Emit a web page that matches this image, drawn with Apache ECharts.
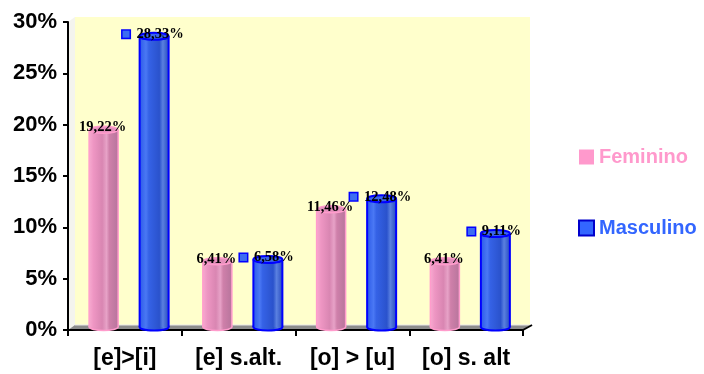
<!DOCTYPE html>
<html>
<head>
<meta charset="utf-8">
<script src="https://cdn.jsdelivr.net/npm/echarts@6/dist/echarts.min.js"></script>
<style>
  html, body { margin: 0; padding: 0; background: #ffffff; }
  #chart { width: 704px; height: 374px; }
</style>
</head>
<body>
<div id="chart"></div>
<script>
// Categories and percentages per group
const categories = ['[e]>[i]', '[e] s.alt.', '[o] > [u]', '[o] s. alt'];
const feminino = [19.22, 6.41, 11.46, 6.41];
const masculino = [28.33, 6.58, 12.48, 9.11];
const yMin = 0;
const yMax = 30;
const yStep = 5;

// Plot frame (pixels) and the pseudo-3D depth of the walls
const G = { left: 68, right: 181, top: 22, bottom: 44 };
const W = 704, H = 374;
const WALL = [7, -5];
const BAR_SHIFT = [4, -3];

function fmt(v) { return v.toFixed(2).replace('.', ',') + '%'; }

const pinkBody = {
  type: 'linear', x: 0, y: 0, x2: 1, y2: 0,
  colorStops: [
    { offset: 0, color: '#f7aad0' }, { offset: 0.15, color: '#ee96c3' },
    { offset: 0.45, color: '#d986b2' }, { offset: 0.6, color: '#e7a2c7' },
    { offset: 0.7, color: '#cf80aa' }, { offset: 1, color: '#b7759c' }
  ]
};
const blueBody = {
  type: 'linear', x: 0, y: 0, x2: 1, y2: 0,
  colorStops: [
    { offset: 0, color: '#2c5be8' }, { offset: 0.22, color: '#4a78f4' },
    { offset: 0.32, color: '#3562e6' }, { offset: 0.68, color: '#2a52cc' },
    { offset: 0.8, color: '#5a80e0' }, { offset: 1, color: '#284cc0' }
  ]
};

const styles = [
  { body: pinkBody, top: '#e690bd', stroke: '#ff9ccc', lw: 1.5, side: -1, key: false },
  { body: blueBody, top: '#3a66ea', stroke: '#0000ff', lw: 2, side: 1, key: true }
];

function cylinder(s) {
  return function (params, api) {
    const idx = api.value(0);
    const val = api.value(1);
    const base = api.coord([idx, 0]);
    const tip = api.coord([idx, val]);
    const band = api.size([1, 0])[0];
    const w = band * 0.255;
    const cx = base[0] + s.side * band * 0.222 + BAR_SHIFT[0];
    const yb = base[1] + BAR_SHIFT[1];
    const yt = tip[1] + BAR_SHIFT[1];
    const rx = w / 2, ry = 3.5;
    const text = fmt(val);
    const rich = {
      v: { fontFamily: 'Liberation Serif', fontWeight: 'bold', fontSize: 14.5, fill: '#000000' },
      sq: { width: 7, height: 7, backgroundColor: '#3c6cf2', borderColor: '#0000ff', borderWidth: 1.5 }
    };
    if (s.key) rich.v.padding = [0, 0, 0, 7];
    return {
      type: 'group',
      children: [
        { type: 'ellipse', shape: { cx: cx, cy: yb, rx: rx, ry: ry },
          style: { fill: s.body, stroke: s.stroke, lineWidth: s.lw } },
        { type: 'rect', shape: { x: cx - rx, y: yt, width: w, height: yb - yt },
          style: { fill: s.body } },
        { type: 'line', shape: { x1: cx - rx, y1: yt, x2: cx - rx, y2: yb },
          style: { stroke: s.stroke, lineWidth: s.lw } },
        { type: 'line', shape: { x1: cx + rx, y1: yt, x2: cx + rx, y2: yb },
          style: { stroke: s.stroke, lineWidth: s.lw } },
        { type: 'ellipse', shape: { cx: cx, cy: yt, rx: rx, ry: ry },
          style: { fill: s.top, stroke: s.stroke, lineWidth: s.lw } },
        { type: 'text', x: cx - 1, y: yt - 2,
          style: {
            text: s.key ? '{sq|}{v|' + text + '}' : '{v|' + text + '}',
            align: 'center', verticalAlign: 'middle', rich: rich,
            fontFamily: 'Liberation Serif', fontWeight: 'bold', fontSize: 14.5
          } }
      ]
    };
  };
}

const x0 = G.left, x1 = W - G.right, y0 = H - G.bottom, y1 = G.top;

const chart = echarts.init(document.getElementById('chart'), null, { renderer: 'canvas' });
chart.setOption({
  backgroundColor: '#ffffff',
  animation: false,
  grid: { left: G.left, right: G.right, top: G.top, bottom: G.bottom, containLabel: false },
  graphic: {
    elements: [
      // back wall
      { type: 'rect', z: -10, shape: { x: x0 + WALL[0], y: y1 + WALL[1], width: x1 - x0, height: y0 - y1 },
        style: { fill: '#ffffcc' } },
      // side wall
      { type: 'polygon', z: -9, shape: { points: [[x0, y1], [x0 + WALL[0], y1 + WALL[1]], [x0 + WALL[0], y0 + WALL[1]], [x0, y0]] },
        style: { fill: '#f4f4ee' } },
      // floor
      { type: 'polygon', z: -8, shape: { points: [[x0, y0], [x0 + WALL[0], y0 + WALL[1]], [x1 + WALL[0], y0 + WALL[1]], [x1, y0]] },
        style: { fill: '#8c8c8c' } },
      { type: 'line', z: -7, shape: { x1: x0 + WALL[0], y1: y0 + WALL[1], x2: x1 + WALL[0], y2: y0 + WALL[1] },
        style: { stroke: '#e8e8e8', lineWidth: 1 } },
      // floor front-right edge
      { type: 'line', z: 5, shape: { x1: x1, y1: y0, x2: x1 + WALL[0] + 2, y2: y0 + WALL[1] },
        style: { stroke: '#000000', lineWidth: 2 } }
    ]
  },
  legend: {
    orient: 'vertical',
    left: 578,
    top: 147,
    padding: 0,
    itemWidth: 15,
    itemHeight: 15,
    itemGap: 51,
    icon: 'rect',
    textStyle: { fontFamily: 'Liberation Sans', fontWeight: 'bold', fontSize: 20, lineHeight: 20 },
    data: [
      { name: 'Feminino', itemStyle: { color: '#ff99cc', borderWidth: 0 }, textStyle: { color: '#ff99cc' } },
      { name: 'Masculino', itemStyle: { color: '#3366ff', borderColor: '#0000cc', borderWidth: 2 }, textStyle: { color: '#3366ff' } }
    ]
  },
  xAxis: {
    type: 'category',
    data: categories,
    boundaryGap: true,
    axisLine: { lineStyle: { color: '#000000', width: 2 } },
    axisTick: { show: true, length: 6, lineStyle: { color: '#000000', width: 2 } },
    axisLabel: {
      color: '#000000', fontFamily: 'Liberation Sans', fontWeight: 'bold', fontSize: 23,
      margin: 17, interval: 0
    },
    splitLine: { show: false }
  },
  yAxis: {
    type: 'value',
    min: yMin, max: yMax, interval: yStep,
    axisLine: { show: true, lineStyle: { color: '#000000', width: 2 } },
    axisTick: { show: true, length: 5, lineStyle: { color: '#000000', width: 2 } },
    axisLabel: {
      formatter: '{value}%', color: '#000000', fontFamily: 'Liberation Sans',
      fontWeight: 'bold', fontSize: 22, margin: 11
    },
    splitLine: { show: false }
  },
  series: [
    {
      name: 'Feminino', type: 'custom', clip: false, z: 3,
      itemStyle: { color: '#ff99cc' },
      encode: { x: 0, y: 1 },
      renderItem: cylinder(styles[0]),
      data: feminino.map(function (v, i) { return [i, v]; })
    },
    {
      name: 'Masculino', type: 'custom', clip: false, z: 3,
      itemStyle: { color: '#3366ff' },
      encode: { x: 0, y: 1 },
      renderItem: cylinder(styles[1]),
      data: masculino.map(function (v, i) { return [i, v]; })
    }
  ]
});
</script>
</body>
</html>
